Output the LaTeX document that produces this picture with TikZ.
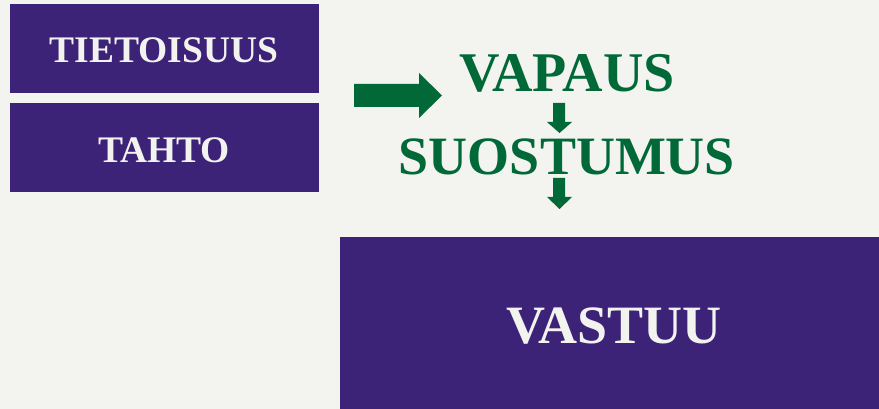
\documentclass[tikz,border=0pt]{standalone}
\usepackage{fontspec}
\setmainfont{Liberation Serif}
\definecolor{bg}{HTML}{F3F3EF}
\definecolor{purp}{HTML}{3D2378}
\definecolor{grn}{HTML}{016838}
\definecolor{txtw}{HTML}{F2F2EE}
\begin{document}
\begin{tikzpicture}[x=1pt,y=-1pt,
  box/.style={fill=purp,draw=none},
  boxtext/.style={text=txtw,font=\bfseries\fontsize{37.5}{37.5}\selectfont,inner sep=0pt},
  greentext/.style={text=grn,font=\bfseries\fontsize{54}{54}\selectfont,inner sep=0pt},
  arrowfill/.style={fill=grn,draw=none}]
\fill[bg] (0,0) rectangle (879,409);
\useasboundingbox (0,0) rectangle (879,409);
% boxes
\fill[box] (10,4) rectangle (319,93);
\fill[box] (10,103) rectangle (319,192);
\fill[box] (340,237) rectangle (879,409);
\node[boxtext] (tieto) at (164,50) {TIETOISUUS};
\node[boxtext] (tahto) at (164,150) {TAHTO};
\node[greentext,font=\bfseries\fontsize{56}{56}\selectfont] (vapaus) at (567,73) {VAPAUS};
\node[greentext] (suost) at (567,157) {SUOSTUMUS};
\node[text=txtw,font=\bfseries\fontsize{54}{54}\selectfont,inner sep=0pt] (vastuu) at (614,326) {VASTUU};
% right arrow
\fill[arrowfill] (354,84) -- (419,84) -- (419,73) -- (442,95.5) -- (419,118) -- (419,107) -- (354,107) -- cycle;
% down arrows
\fill[arrowfill] (553,103) -- (565,103) -- (565,122) -- (572,122) -- (559.5,133) -- (547,122) -- (553,122) -- cycle;
\fill[arrowfill] (553,178) -- (565,178) -- (565,197) -- (572,197) -- (559.5,209) -- (547,197) -- (553,197) -- cycle;
\end{tikzpicture}
\end{document}
